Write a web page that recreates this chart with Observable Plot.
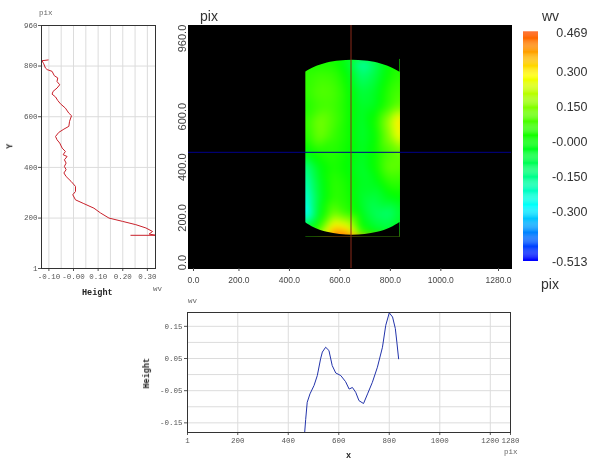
<!DOCTYPE html>
<html>
<head>
<meta charset="utf-8">
<script src="https://cdn.jsdelivr.net/npm/d3@7"></script>
<script src="https://cdn.jsdelivr.net/npm/@observablehq/plot@0.6"></script>
<style>
html,body{margin:0;padding:0;background:#fff;width:589px;height:459px;overflow:hidden}
#page{position:relative;width:589px;height:459px}
#page svg{position:absolute;left:0;top:0;background:transparent;filter:blur(.3px)}
.t{position:absolute;white-space:nowrap;line-height:1;color:#444;filter:blur(.3px)}
.m{font-family:"Liberation Mono",monospace;font-size:7.5px;color:#666}
.b{font-family:"Liberation Mono",monospace;font-size:8.5px;font-weight:bold;color:#222}
.s{font-family:"Liberation Sans",Arial,sans-serif;font-size:14px;color:#333}
</style>
</head>
<body>
<div id="page"></div>
<script>
// Vertical profile (left chart)
const profileHeight = [-0.103,-0.128,-0.121,-0.114,-0.107,-0.087,-0.078,-0.064,-0.067,-0.056,-0.067,-0.083,-0.087,-0.073,-0.064,-0.053,-0.033,-0.019,-0.008,-0.016,-0.019,-0.039,-0.060,-0.073,-0.067,-0.056,-0.046,-0.033,-0.042,-0.026,-0.037,-0.030,-0.037,-0.030,-0.039,-0.030,-0.010,0.008,0.008,-0.003,0.008,0.042,0.083,0.110,0.144,0.199,0.253,0.294,0.321,0.307,0.335,0.233];
const profileY = [824,821,809,792,786,779,762,753,739,726,713,700,689,678,664,651,634,614,604,582,562,551,538,522,509,496,476,463,450,443,430,417,404,391,378,364,345,325,305,292,272,257,239,220,200,187,174,161,147,137,132,132];

// Horizontal profile (bottom chart)
const sectionX = [465,469,475,486,502,515,528,535,548,561,574,588,608,627,641,654,667,680,698,714,733,753,773,786,800,813,824,830,837];
const sectionHeight = [-0.180,-0.139,-0.086,-0.060,-0.034,-0.003,0.049,0.070,0.085,0.075,0.028,0.005,-0.003,-0.022,-0.045,-0.040,-0.055,-0.081,-0.090,-0.060,-0.024,0.023,0.085,0.153,0.192,0.179,0.143,0.101,0.049];

// Height map samples
const gridX = [463,520,575,630,685,740,795,838];
const gridY = [825,760,700,640,580,520,460,400,340,280,220,170,130];
const gridValues = [
  [ 0.05, 0.02, 0.02,-0.05,-0.20,-0.10, 0.00, 0.03],
  [ 0.05, 0.07, 0.06, 0.00,-0.12,-0.07, 0.02, 0.05],
  [ 0.05, 0.09, 0.08, 0.02,-0.07,-0.04, 0.05, 0.08],
  [ 0.03, 0.07, 0.07, 0.02,-0.05,-0.03, 0.06, 0.12],
  [ 0.05, 0.13, 0.08, 0.02,-0.05, 0.02, 0.18, 0.33],
  [ 0.03, 0.12, 0.06, 0.02,-0.05, 0.00, 0.15, 0.28],
  [-0.02, 0.03, 0.04, 0.01,-0.04, 0.01, 0.08, 0.12],
  [-0.15,-0.02, 0.03, 0.00,-0.05, 0.01, 0.11, 0.10],
  [-0.20,-0.04, 0.05, 0.02,-0.04,-0.03, 0.05, 0.05],
  [-0.25,-0.05, 0.05, 0.03,-0.05,-0.07,-0.02, 0.00],
  [-0.30,-0.03, 0.12, 0.05,-0.03,-0.10,-0.12,-0.05],
  [-0.10, 0.05, 0.30, 0.25, 0.00,-0.06,-0.08,-0.03],
  [ 0.00, 0.15, 0.43, 0.42, 0.10, 0.00,-0.02,-0.02]
];
// Outline of the measured surface
const outlineX = [463,500,550,600,650,700,750,800,838];
const outlineTop = [775,795,812,820,823,820,812,795,775];
const outlineBottom = [182,160,143,134,131,134,143,160,182];
const crossX = [644];
const crossY = [459];

// Scale definitions
const colorDomain = [-0.513,-0.28,0,0.28,0.469];
const colorRange = ["#0000ff","#00ffff","#00ff00","#ffff00","#ff5000"];
const colorTicks = [0.469,0.300,0.150,0,-0.150,-0.300,-0.513];
const colorTickLabels = ["0.469","0.300","0.150","-0.000","-0.150","-0.300","-0.513"];

const W = 589, H = 459, page = document.getElementById("page");
const mono = "Liberation Mono", sans = "Liberation Sans";
const grid = "#dcdcdc", ink = "#333";
const base = {width:W,height:H,style:{background:"transparent",overflow:"visible"}};
const add = p => page.appendChild(p);

// Left profile
const pts1 = profileHeight.map((h,i)=>({h,y:profileY[i]}));
add(Plot.plot({...base,marginLeft:41,marginRight:W-155,marginTop:25,marginBottom:H-268,
  x:{domain:[-0.13,0.333]},y:{domain:[1,960]},
  marks:[
    Plot.gridX([-0.10,-0.05,0,0.05,0.10,0.15,0.20,0.25,0.30],{stroke:grid,strokeOpacity:1}),
    Plot.gridY([200,400,600,800],{stroke:grid,strokeOpacity:1}),
    Plot.axisX([-0.10,0,0.10,0.20,0.30],{tickFormat:d=>d===-0.10?"-0.10":d===0?"-0.00":d.toFixed(2),fontFamily:mono,fontSize:7.5,tickSize:3,tickPadding:2,label:null,color:"#555"}),
    Plot.axisY([1,200,400,600,800,960],{fontFamily:mono,fontSize:7.5,tickSize:3,tickPadding:1,label:null,color:"#555"}),
    Plot.line(pts1,{x:"h",y:"y",stroke:"#c8202a",strokeWidth:1,curve:"linear",sort:null}),
    Plot.frame({stroke:ink})
  ]}));

// Height map
const samples = gridY.flatMap((y,r)=>gridX.map((x,c)=>({x,y,v:gridValues[r][c]})));
const outline = outlineX.map((x,i)=>({x,top:outlineTop[i],bottom:outlineBottom[i]}));
const color = {type:"linear",domain:colorDomain,range:colorRange,interpolate:"rgb",clamp:true};
add(Plot.plot({...base,marginLeft:188,marginRight:W-511,marginTop:25,marginBottom:H-268,
  x:{domain:[0,1280]},y:{domain:[0,960]},color,
  marks:[
    Plot.frame({fill:"black",stroke:"black"}),
    Plot.raster(samples,{x:"x",y:"y",fill:"v",interpolate:"barycentric",blur:3,x1:463,x2:838,y1:126,y2:828,pixelSize:1}),
    Plot.areaY(outline,{x:"x",y1:"top",y2:()=>830,fill:"black",curve:"natural"}),
    Plot.areaY(outline,{x:"x",y1:"bottom",y2:()=>124,fill:"black",curve:"natural"}),
    Plot.axisX([200,400,600,800,1000],{tickFormat:d=>d.toFixed(1),fontFamily:sans,fontSize:8.5,tickSize:3,tickPadding:5,label:null,color:"#444"}),
    Plot.axisX([0],{tickFormat:d=>d.toFixed(1),fontFamily:sans,fontSize:8.5,tickSize:3,tickPadding:5,label:null,color:"#444",dx:5}),
    Plot.axisX([1280],{tickFormat:d=>d.toFixed(1),fontFamily:sans,fontSize:8.5,tickSize:3,tickPadding:5,label:null,color:"#444",dx:-13}),
    Plot.axisY([200,400,600],{tickFormat:d=>d.toFixed(1),tickRotate:-90,fontFamily:sans,fontSize:11,tickSize:0,tickPadding:3,label:null,color:"#444"}),
    Plot.axisY([960],{tickFormat:d=>d.toFixed(1),tickRotate:-90,fontFamily:sans,fontSize:11,tickSize:0,tickPadding:3,label:null,color:"#444",dy:13}),
    Plot.axisY([0],{tickFormat:d=>d.toFixed(1),tickRotate:-90,fontFamily:sans,fontSize:11,tickSize:0,tickPadding:3,label:null,color:"#444",dy:-6}),
    Plot.ruleY(crossY,{stroke:"#00008b",strokeWidth:1}),
    Plot.ruleX(crossX,{stroke:"#8b2a1a",strokeWidth:1})
  ]}));

// Colour bar
const levels = d3.range(-0.513,0.469,0.004);
add(Plot.plot({...base,marginLeft:523,marginRight:W-538,marginTop:32,marginBottom:H-261,
  x:{domain:[0,1],axis:null},y:{domain:[-0.513,0.469]},color,
  marks:[
    Plot.rect(levels,{x1:()=>0,x2:()=>1,y1:d=>d,y2:d=>d+0.0045,fill:d=>d}),
    Plot.axisY(colorTicks,{anchor:"right",tickSize:0,tickPadding:0,dx:49,textAnchor:"end",fontFamily:sans,fontSize:12.5,label:null,color:"#333",
      tickFormat:d=>colorTickLabels[colorTicks.indexOf(d)]})
  ]}));

// Bottom profile
const pts2 = sectionX.map((x,i)=>({x,h:sectionHeight[i]}));
add(Plot.plot({...base,marginLeft:187,marginRight:W-510,marginTop:312,marginBottom:H-432,
  x:{domain:[1,1280]},y:{domain:[-0.180,0.193]},
  marks:[
    Plot.gridX([200,400,600,800,1000,1200],{stroke:grid,strokeOpacity:1}),
    Plot.gridY([-0.15,-0.10,-0.05,0,0.05,0.10,0.15],{stroke:grid,strokeOpacity:1}),
    Plot.axisX([1,200,400,600,800,1000,1200,1280],{fontFamily:mono,fontSize:7.5,tickSize:3,tickPadding:2,label:null,color:"#555",tickFormat:d=>String(d)}),
    Plot.axisY([-0.15,-0.05,0.05,0.15],{fontFamily:mono,fontSize:7.5,tickSize:3,tickPadding:2,label:null,color:"#555",tickFormat:d=>d.toFixed(2)}),
    Plot.line(pts2,{x:"x",y:"h",stroke:"#2233aa",strokeWidth:1,curve:"linear"}),
    Plot.frame({stroke:ink})
  ]}));

// Titles and units
const labels = [
  ["pix","m",39,10,0],["Height","b",82,289,0],["wv","m",153,286,0],["Y","b",8,142,-90],
  ["pix","s",200,9,0],["wv","s",542,9,0],["pix","s",541,277,0],
  ["wv","m",188,298,0],["Height","b",132,369,-90],["x","b",346,452,0],["pix","m",504,449,0]
];
labels.forEach(([txt,cls,x,y,rot])=>{
  const e=document.createElement("div");
  e.className="t "+cls; e.textContent=txt;
  e.style.left=x+"px"; e.style.top=y+"px";
  if(rot) e.style.transform=`rotate(${rot}deg)`;
  page.appendChild(e);
});
</script>
</body>
</html>
